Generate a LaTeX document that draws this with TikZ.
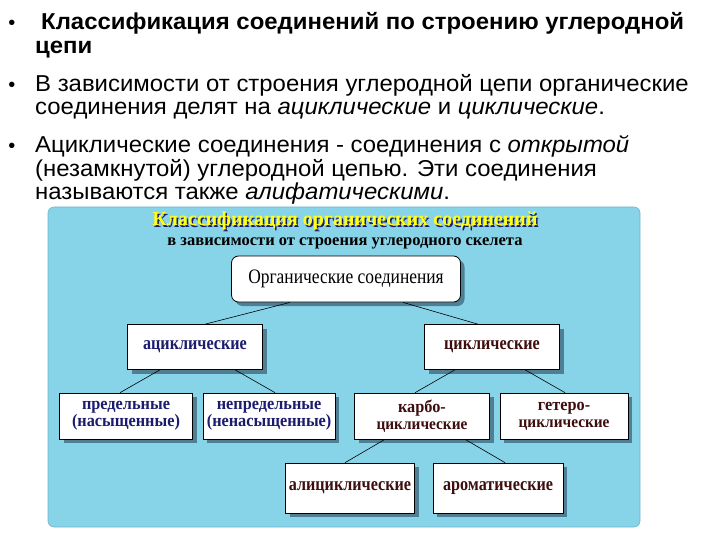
\documentclass[tikz,border=0pt]{standalone}
\usepackage{fontspec}
\setmainfont{Liberation Serif}
\setsansfont{Liberation Sans}
\newfontfamily\widesans[FakeStretch=1.04]{Liberation Sans}
\newfontfamily\narrowserif[FakeStretch=0.85]{Liberation Serif}
\newfontfamily\midserif[FakeStretch=0.93]{Liberation Serif}
\usetikzlibrary{positioning, shadows}
\definecolor{panelblue}{HTML}{87D4E9}
\definecolor{paneledge}{HTML}{6FB4CC}
\definecolor{shade}{HTML}{4E7F94}
\definecolor{navyink}{HTML}{1C1C6E}
\definecolor{brownink}{HTML}{3E0E0E}
\definecolor{titleyellow}{HTML}{FFFF1A}
\newcommand{\smallline}[1]{{\fontsize{16.5}{17.5}\selectfont #1}}
\tikzset{
  bullettext/.style={anchor=base west, align=left, inner sep=0pt, font=\widesans\fontsize{23}{23.3}\selectfont},
  dot/.style={anchor=base, inner sep=0pt, font=\sffamily\fontsize{20}{23}\selectfont},
  rootbox/.style={draw=black, line width=0.8pt, rounded corners=7pt, fill=white, align=center,
    font=\narrowserif\fontsize{20.5}{21}\selectfont, minimum width=229pt, minimum height=46pt,
    drop shadow={shadow xshift=4pt, shadow yshift=-4pt, fill=shade, opacity=1}},
  classbox/.style={draw=black, line width=0.6pt, fill=white, align=center, inner sep=2pt,
    drop shadow={shadow xshift=4pt, shadow yshift=-4pt, fill=shade, opacity=1}},
  upper/.style={classbox, font=\narrowserif\bfseries\fontsize{19}{18}\selectfont},
  lower/.style={classbox, font=\midserif\bfseries\fontsize{17.5}{17}\selectfont},
  acyc/.style={text=navyink},
  cyc/.style={text=brownink},
  link/.style={draw=black, line width=0.6pt},
}
\begin{document}
\begin{tikzpicture}[x=1pt, y=-1pt]
  \useasboundingbox (0,0) rectangle (720,540);
  % Bullet list on top
  \node[dot] (d1) at (12,30) {•};
  \node[dot] (d2) at (12,91.7) {•};
  \node[dot] (d3) at (12,153) {•};
  \node[bullettext, font=\widesans\bfseries\fontsize{23}{23.3}\selectfont] (b1) at (35,53.3)
    {\hspace*{6pt}Классификация соединений по строению углеродной\\цепи};
  \node[bullettext] (b2) at (35,115)
    {В зависимости от строения углеродной цепи органические\\
     соединения делят на \textit{ациклические} и \textit{циклические}.};
  \node[bullettext] (b3) at (35,199.6)
    {Ациклические соединения - соединения с \textit{открытой}\\
     (незамкнутой) углеродной цепью. Эти соединения\\
     называются также \textit{алифатическими}.};

  % Blue panel
  \draw[draw=paneledge, fill=panelblue, rounded corners=6pt, line width=0.6pt]
    (48,207) rectangle (640,527);
  \node[font=\bfseries\fontsize{20}{21}\selectfont, text=navyink] (titleshadow) at (346.5,222.5)
    {Классификация органических соединений};
  \node[font=\bfseries\fontsize{20}{21}\selectfont, text=titleyellow] (title) at (345,221)
    {Классификация органических соединений};
  \node[font=\bfseries\fontsize{16.5}{18}\selectfont, below=1pt of title] (subtitle)
    {в зависимости от строения углеродного скелета};

  % Tree of classes
  \node[rootbox] (organic) at (346,279) {Органические соединения};
  \node[upper, acyc, minimum width=135pt, minimum height=45pt] (acyclic) at (195,347) {ациклические};
  \node[upper, cyc, minimum width=135pt, minimum height=45pt] (cyclic) at (492,347) {циклические};
  \node[lower, acyc, minimum width=133pt, minimum height=46pt] (satur) at (126,416) {предельные\\(насыщенные)};
  \node[lower, acyc, minimum width=132pt, minimum height=46pt, right=10pt of satur] (unsatur) {непредельные\\(ненасыщенные)};
  \node[lower, cyc, minimum width=135pt, minimum height=46pt] (carbo) at (422,416) {карбо-\\\smallline{циклические}};
  \node[lower, cyc, minimum width=128pt, minimum height=46pt, right=10pt of carbo] (hetero) {гетеро-\\\smallline{циклические}};
  \node[upper, cyc, minimum width=129pt, minimum height=50pt] (alicyc) at (350,488) {алициклические};
  \node[upper, cyc, minimum width=130pt, minimum height=50pt, right=18pt of alicyc] (arom) {ароматические};

  % Connectors
  \draw[link] ([xshift=-56pt]organic.south) -- ([xshift=10pt]acyclic.north);
  \draw[link] ([xshift=57pt]organic.south) -- ([xshift=-14pt]cyclic.north);
  \draw[link] ([xshift=-35pt]acyclic.south) -- ([xshift=-6pt]satur.north);
  \draw[link] ([xshift=40pt]acyclic.south) -- ([xshift=6pt]unsatur.north);
  \draw[link] ([xshift=-37pt]cyclic.south) -- ([xshift=-7pt]carbo.north);
  \draw[link] ([xshift=33pt]cyclic.south) -- ([xshift=1pt]hetero.north);
  \draw[link] ([xshift=-37pt]carbo.south) -- ([xshift=-5pt]alicyc.north);
  \draw[link] ([xshift=43pt]carbo.south) -- ([xshift=7pt]arom.north);
\end{tikzpicture}
\end{document}
